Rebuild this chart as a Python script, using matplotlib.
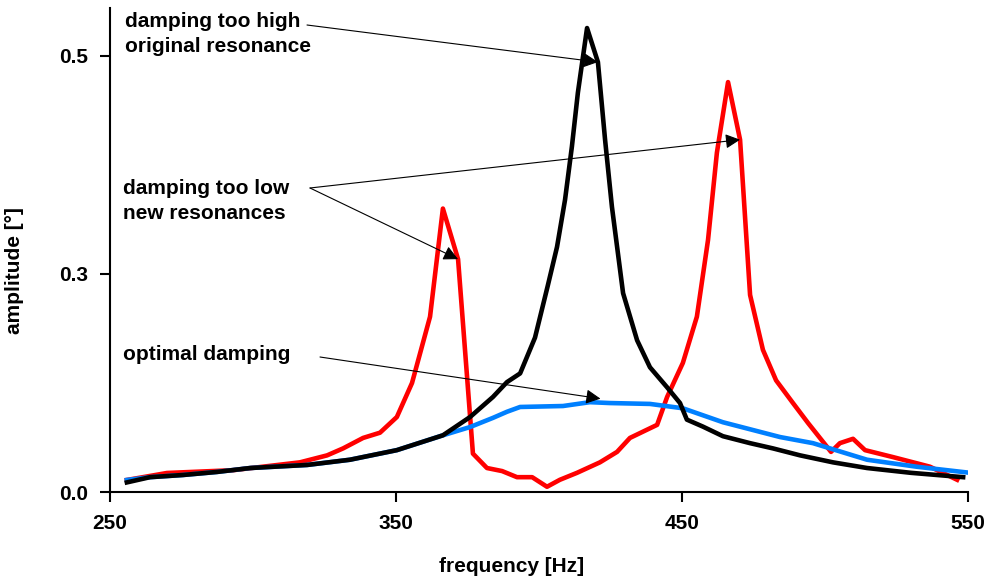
import matplotlib
matplotlib.use("Agg")
import matplotlib.pyplot as plt

# frequency response of a damped structure
freq_high = [255.9, 264.0, 275.5, 287.4, 299.0, 318.9, 333.9, 350.3, 366.4, 375.9,
             383.9, 388.8, 393.4, 398.6, 403.1, 406.3, 409.1, 411.5, 413.6, 416.8,
             420.6, 423.1, 425.5, 429.4, 434.3, 438.8, 444.8, 449.3, 451.7, 457.3,
             464.3, 473.8, 481.8, 491.3, 502.8, 514.7, 530.0, 548.3]
amp_high = [0.011, 0.017, 0.0195, 0.023, 0.0275, 0.031, 0.037, 0.048, 0.065, 0.086,
            0.109, 0.126, 0.136, 0.177, 0.237, 0.281, 0.335, 0.396, 0.458, 0.532,
            0.493, 0.404, 0.327, 0.228, 0.174, 0.143, 0.120, 0.102, 0.083, 0.075,
            0.064, 0.056, 0.050, 0.042, 0.034, 0.0275, 0.022, 0.017]

freq_low = [255.9, 269.9, 293.0, 316.4, 325.9, 331.5, 338.5, 344.4, 350.3, 355.6,
            361.9, 366.4, 371.7, 376.9, 381.8, 387.1, 392.3, 397.6, 402.8, 407.3,
            413.3, 421.3, 427.3, 431.8, 441.3, 444.8, 450.3, 455.2, 459.1, 462.2,
            466.1, 470.3, 473.8, 478.3, 482.9, 488.8, 494.1, 502.1, 505.2, 509.8,
            514.0, 523.8, 536.7, 546.2]
amp_low = [0.0138, 0.0218, 0.025, 0.034, 0.042, 0.050, 0.062, 0.068, 0.086, 0.125,
           0.201, 0.325, 0.267, 0.044, 0.0275, 0.024, 0.017, 0.017, 0.006, 0.014,
           0.022, 0.034, 0.046, 0.062, 0.077, 0.109, 0.148, 0.201, 0.289, 0.389,
           0.470, 0.404, 0.226, 0.163, 0.128, 0.102, 0.079, 0.046, 0.056, 0.061,
           0.048, 0.040, 0.029, 0.014]

freq_opt = [255.9, 264.0, 275.5, 287.4, 299.0, 318.9, 333.9, 350.3, 366.4, 375.9,
            383.9, 388.8, 393.4, 408.4, 417.8, 424.8, 438.8, 450.3, 464.3, 484.3,
            495.8, 514.7, 532.0, 550.7]
amp_opt = [0.0138, 0.017, 0.0195, 0.023, 0.0275, 0.031, 0.037, 0.048, 0.065, 0.0745,
           0.085, 0.092, 0.0975, 0.0986, 0.103, 0.102, 0.101, 0.096, 0.080, 0.063,
           0.056, 0.037, 0.029, 0.022]

xticks = [250, 350, 450, 550]
yticks = [0.0, 0.25, 0.5]
ytick_labels = ["0.0", "0.3", "0.5"]

W, H = 992, 577
plt.rcParams["font.family"] = ["Liberation Sans", "DejaVu Sans"]
plt.rcParams["font.weight"] = "bold"

fig = plt.figure(figsize=(W / 100, H / 100), dpi=100)
ax = fig.add_axes([110 / W, 1 - 492 / H, 858 / W, 484 / H])

ax.plot(freq_low, amp_low, color="#ff0000", lw=3.3)
ax.plot(freq_opt, amp_opt, color="#0080ff", lw=3.3)
ax.plot(freq_high, amp_high, color="black", lw=3.3)

ax.set_xlim(250, 550)
ax.set_ylim(0, 0.555)
ax.set_xticks(xticks)
ax.set_yticks(yticks)
ax.set_yticklabels(ytick_labels)

for lab in ax.get_xticklabels() + ax.get_yticklabels():
    lab.set_fontweight("bold")
    lab.set_fontsize(15)

ax.spines["top"].set_visible(False)
ax.spines["right"].set_visible(False)
ax.spines["left"].set_linewidth(1.5)
ax.spines["bottom"].set_linewidth(1.5)
ax.tick_params(direction="out", length=7, width=1.5, pad=9)

ax.set_xlabel("frequency [Hz]", fontweight="bold", fontsize=15, va="center")
ax.set_ylabel("amplitude [°]", fontweight="bold", fontsize=15, va="center")
ax.xaxis.set_label_coords((512 - 110) / 858, (492 - 566) / 484)
ax.yaxis.set_label_coords((14 - 110) / 858, (492 - 271) / 484)


def px(x, y):
    return (x / W, 1 - y / H)


txt = dict(fontsize=15, fontweight="bold", va="center", ha="left", linespacing=1.35)
fig.text(*px(125, 34), "damping too high\noriginal resonance", **txt)
fig.text(*px(123, 201), "damping too low\nnew resonances", **txt)
fig.text(*px(123, 355), "optimal damping", **txt)

arrow = dict(arrowstyle="-|>", color="black", lw=0.8, mutation_scale=22,
             shrinkA=0, shrinkB=0)
ax.annotate("", xy=(420.6, 0.493), xytext=px(307, 25),
            textcoords="figure fraction", arrowprops=arrow)
ax.annotate("", xy=(470.3, 0.404), xytext=px(310, 188),
            textcoords="figure fraction", arrowprops=arrow)
ax.annotate("", xy=(371.7, 0.267), xytext=px(310, 188),
            textcoords="figure fraction", arrowprops=arrow)
ax.annotate("", xy=(421.5, 0.107), xytext=px(320, 357),
            textcoords="figure fraction", arrowprops=arrow)

fig.savefig("out.png", dpi=100)
